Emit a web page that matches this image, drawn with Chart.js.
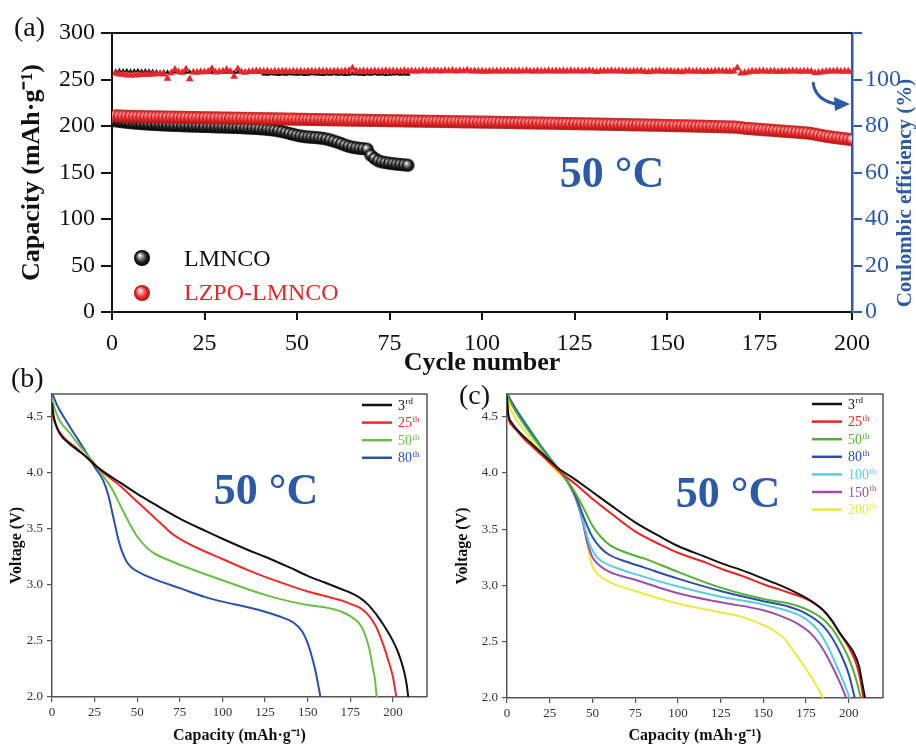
<!DOCTYPE html>
<html lang="en">
<head>
<meta charset="UTF-8">
<title>Cycling at 50 °C</title>
<style>
  body { margin: 0; background: #fff; width: 916px; height: 745px; position: relative; overflow: hidden; }
  canvas { position: absolute; }
  #chartA { left: 0; top: 0; }
  #chartB { left: 0; top: 370px; }
  #chartC { left: 452px; top: 370px; }
  .tag { position: absolute; font: 28px "Liberation Serif", serif; color: #111; line-height: 1; z-index: 2; }
</style>
<script src="https://cdn.jsdelivr.net/npm/chart.js"></script>
</head>
<body>

<canvas id="chartA" width="916" height="385"></canvas>
<canvas id="chartB" width="458" height="375"></canvas>
<canvas id="chartC" width="464" height="375"></canvas>
<div class="tag" style="left:14px; top:13px;">(a)</div>
<div class="tag" style="left:11px; top:364px;">(b)</div>
<div class="tag" style="left:459px; top:381px;">(c)</div>

<script>
  const SERIF = '"Liberation Serif", "Times New Roman", serif';
  const BLUE = '#2c5aa8';
  const RED = '#e8262a';

  // ---- (a) capacity (mAh/g) per cycle, starting at cycle 1
  const capLMNCO = [
    205.5,205.0,204.5,204.0,203.6,203.2,202.9,202.6,202.3,202.0,
    201.8,201.6,201.4,201.2,201.0,200.8,200.6,200.5,200.3,200.2,
    200.0,199.9,199.8,199.6,199.5,199.4,199.3,199.1,199.0,198.9,
    198.8,198.6,198.5,198.4,198.2,198.0,197.8,197.6,197.4,197.1,
    196.8,196.4,196.0,195.5,194.8,194.0,193.0,192.0,191.0,190.0,
    189.2,188.6,188.2,187.9,187.6,187.2,186.7,186.0,185.0,183.8,
    182.5,181.0,179.5,178.2,177.2,176.5,176.0,175.6,175.0,168.5,
    165.0,162.5,161.3,160.6,160.0,159.5,159.0,158.6,158.2,157.8
  ];
  const capLZPO = [
    211.0,210.8,210.6,210.5,210.4,210.3,210.2,210.1,210.0,210.0,
    209.9,209.8,209.8,209.7,209.6,209.6,209.5,209.4,209.4,209.3,
    209.2,209.2,209.1,209.0,209.0,208.9,208.8,208.8,208.7,208.6,
    208.6,208.5,208.4,208.4,208.3,208.2,208.2,208.1,208.0,208.0,
    207.9,207.8,207.8,207.7,207.6,207.6,207.5,207.4,207.4,207.3,
    207.2,207.2,207.1,207.0,207.0,206.9,206.8,206.8,206.7,206.6,
    206.6,206.5,206.5,206.4,206.3,206.3,206.2,206.2,206.1,206.0,
    206.0,205.9,205.9,205.8,205.7,205.7,205.6,205.6,205.5,205.4,
    205.4,205.3,205.3,205.2,205.1,205.1,205.0,205.0,204.9,204.8,
    204.8,204.7,204.7,204.6,204.5,204.5,204.4,204.4,204.3,204.2,
    204.2,204.1,204.0,204.0,203.9,203.8,203.8,203.7,203.6,203.6,
    203.5,203.4,203.4,203.3,203.2,203.2,203.1,203.0,203.0,202.9,
    202.8,202.8,202.7,202.6,202.6,202.5,202.4,202.3,202.3,202.2,
    202.1,202.0,202.0,201.9,201.8,201.7,201.7,201.6,201.5,201.4,
    201.3,201.3,201.2,201.1,201.0,200.9,200.9,200.8,200.7,200.6,
    200.5,200.4,200.4,200.3,200.2,200.1,200.0,199.9,199.8,199.7,
    199.6,199.5,199.4,199.3,199.2,199.1,199.0,198.9,198.7,198.2,
    197.6,197.3,197.0,196.7,196.4,196.1,195.8,195.5,195.2,194.9,
    194.6,194.3,194.0,193.7,193.4,193.1,192.8,192.5,192.0,191.2,
    190.4,189.7,189.0,188.4,187.8,187.3,186.8,186.3,185.8,185.3
  ];
  // coulombic efficiency (%)
  const ceLMNCO = [
    103.6,103.8,103.7,103.8,103.6,103.7,103.8,103.6,103.7,103.5,
    103.4,103.3,103.0,103.2,103.1,103.0,103.3,103.2,103.0,103.1,
    103.2,103.0,103.1,103.3,103.2,103.1,103.0,103.2,103.1,103.0,
    103.2,103.1,103.0,103.2,103.1,103.3,103.0,103.1,103.2,103.0,
    102.4,102.3,102.5,102.4,102.2,102.4,102.3,102.5,102.4,102.3,
    102.4,102.2,102.3,102.5,102.4,102.3,102.2,102.4,102.3,102.5,
    102.3,102.4,102.2,102.3,102.5,102.4,102.3,102.2,102.4,102.3,
    102.5,102.3,102.4,102.2,102.3,102.4,102.5,102.3,102.4,102.3
  ];
  const ceLZPO = [
    102.6,102.3,102.1,101.9,101.8,101.8,101.9,102.0,102.1,102.2,
    102.3,102.4,102.5,102.3,100.4,102.8,104.3,103.2,103.0,104.4,
    100.2,103.1,103.0,103.3,103.2,103.4,104.6,103.1,103.3,103.5,
    104.2,103.4,101.3,104.5,103.2,103.0,103.3,103.4,103.7,103.5,
    103.4,103.6,103.3,103.5,103.4,103.6,103.5,103.3,103.6,103.4,
    103.5,103.3,103.6,103.5,103.4,103.7,103.5,103.6,103.4,103.5,
    103.6,103.4,103.7,103.8,104.8,103.6,103.5,103.7,103.6,103.5,
    103.7,103.6,103.5,103.8,103.6,103.7,103.5,103.6,103.8,103.6,
    103.7,103.5,103.6,103.8,103.7,103.6,103.8,103.7,103.6,103.8,
    103.7,103.9,103.6,103.8,103.7,104.0,103.6,103.7,103.5,103.6,
    103.4,103.6,103.5,103.7,103.6,103.5,103.7,103.6,103.5,103.7,
    103.6,103.8,103.5,103.6,103.7,103.5,103.6,103.8,103.6,103.7,
    103.5,103.7,103.6,103.8,103.5,103.7,103.6,103.5,103.8,103.6,
    103.3,103.6,103.7,103.5,103.8,103.6,103.7,103.5,103.6,103.4,
    103.6,103.5,103.7,103.3,103.2,103.6,103.5,103.7,103.4,103.6,
    103.5,103.3,103.6,103.2,103.5,103.7,103.4,103.6,103.5,103.3,
    103.6,103.4,103.5,103.7,103.5,103.6,103.4,103.6,105.0,102.7,
    102.9,103.1,103.6,103.4,103.5,103.7,103.4,103.6,103.5,103.3,
    103.6,103.4,103.5,103.7,103.6,103.4,103.5,103.6,103.4,102.8,
    103.0,103.2,103.4,103.6,103.5,103.7,103.4,103.6,103.5,103.4
  ];

  // ---- (b) LMNCO discharge curves [capacity, voltage]
  const bLabels = ['3rd', '25th', '50th', '80th'];
  const bColors = ['#111111', '#ee2a2a', '#6abf45', '#2a52a8'];
  const b3 = [[0,4.62],[0.5,4.55],[1,4.5],[2,4.44],[4,4.36],[7,4.30],[10,4.26],[15,4.20],[20,4.14],[25,4.07],[30,4.01],[40,3.91],[50,3.81],[60,3.72],[75,3.59],[90,3.48],[100,3.41],[115,3.31],[125,3.25],[140,3.15],[150,3.08],[160,3.02],[170,2.96],[175,2.93],[180,2.89],[185,2.83],[190,2.74],[195,2.63],[200,2.50],[203,2.40],[206,2.26],[208,2.12],[209,2.0]];
  const b25 = [[0,4.58],[1,4.48],[3,4.40],[6,4.33],[10,4.27],[15,4.21],[20,4.14],[25,4.07],[30,4.0],[40,3.88],[50,3.74],[60,3.60],[65,3.53],[70,3.46],[75,3.41],[85,3.33],[100,3.23],[115,3.13],[125,3.07],[140,2.99],[150,2.94],[160,2.90],[170,2.86],[175,2.83],[180,2.80],[185,2.74],[190,2.63],[194,2.48],[197,2.34],[200,2.18],[202,2.0]];
  const b50 = [[0,4.65],[2,4.55],[5,4.45],[10,4.36],[15,4.26],[20,4.17],[25,4.08],[30,3.97],[35,3.86],[40,3.71],[45,3.56],[50,3.43],[55,3.34],[60,3.28],[70,3.21],[80,3.15],[100,3.04],[115,2.96],[125,2.91],[140,2.85],[150,2.82],[160,2.80],[170,2.76],[175,2.72],[180,2.66],[183,2.58],[186,2.44],[188,2.28],[189.5,2.15],[190.5,2.0]];
  const b80 = [[0,4.71],[3,4.60],[10,4.42],[15,4.30],[20,4.18],[25,4.05],[30,3.93],[33,3.80],[36,3.60],[39,3.40],[41,3.30],[44,3.20],[47,3.15],[50,3.12],[60,3.05],[75,2.97],[90,2.89],[100,2.85],[115,2.80],[125,2.76],[135,2.71],[142,2.66],[147,2.58],[150,2.48],[153,2.33],[155,2.20],[156.5,2.08],[157.5,2.0]];

  // ---- (c) LZPO-LMNCO discharge curves [capacity, voltage]
  const cLabels = ['3rd', '25th', '50th', '80th', '100th', '150th', '200th'];
  const cColors = ['#111111', '#ee2222', '#52b034', '#2e4fa8', '#5ccbdb', '#9a50a8', '#eaea40'];
  const c3 = [[0,4.68],[0.5,4.56],[1,4.5],[3,4.44],[6,4.38],[10,4.32],[15,4.25],[20,4.18],[25,4.11],[30,4.04],[40,3.94],[50,3.83],[60,3.72],[75,3.56],[90,3.43],[100,3.35],[115,3.26],[125,3.20],[140,3.12],[150,3.06],[160,3.00],[170,2.93],[175,2.89],[180,2.84],[185,2.78],[190,2.69],[195,2.57],[200,2.47],[203,2.40],[206,2.28],[208,2.12],[209.5,2.0]];
  const c25 = [[0,4.62],[1,4.48],[3,4.42],[6,4.37],[10,4.30],[15,4.23],[20,4.16],[25,4.09],[30,4.02],[40,3.90],[50,3.77],[60,3.65],[75,3.48],[90,3.36],[100,3.29],[115,3.21],[125,3.15],[140,3.07],[150,3.01],[160,2.96],[170,2.91],[175,2.88],[180,2.84],[185,2.78],[190,2.69],[195,2.57],[200,2.45],[204,2.32],[206.5,2.18],[208.5,2.0]];
  const c50 = [[0,4.70],[3,4.60],[10,4.43],[20,4.22],[30,4.03],[35,3.93],[40,3.82],[45,3.68],[50,3.53],[55,3.43],[60,3.36],[70,3.29],[80,3.24],[100,3.12],[125,2.98],[150,2.88],[165,2.84],[175,2.79],[185,2.70],[190,2.62],[195,2.50],[200,2.35],[204,2.18],[207,2.0]];
  const c80 = [[0,4.71],[3,4.62],[10,4.45],[20,4.23],[30,4.03],[35,3.93],[40,3.80],[45,3.60],[50,3.43],[55,3.33],[60,3.27],[70,3.21],[80,3.16],[100,3.06],[125,2.95],[150,2.86],[165,2.81],[175,2.75],[185,2.64],[190,2.54],[195,2.40],[200,2.21],[203.5,2.0]];
  const c100 = [[0,4.71],[3,4.62],[10,4.46],[20,4.24],[30,4.04],[35,3.94],[40,3.80],[44,3.60],[48,3.38],[52,3.26],[56,3.21],[65,3.15],[75,3.10],[100,2.99],[125,2.90],[150,2.83],[165,2.77],[175,2.70],[182,2.60],[188,2.45],[193,2.28],[197,2.14],[200.5,2.0]];
  const c150 = [[0,4.71],[3,4.62],[10,4.45],[20,4.23],[30,4.03],[35,3.93],[40,3.78],[44,3.58],[47,3.38],[50,3.25],[54,3.18],[60,3.12],[75,3.05],[100,2.93],[125,2.85],[150,2.78],[160,2.73],[170,2.66],[178,2.57],[185,2.43],[191,2.26],[195,2.13],[198.5,2.0]];
  const c200 = [[0,4.68],[2,4.57],[5,4.48],[10,4.38],[15,4.28],[20,4.18],[25,4.08],[30,4.0],[35,3.93],[40,3.82],[43,3.68],[46,3.45],[48,3.28],[50,3.17],[53,3.10],[60,3.03],[75,2.95],[90,2.88],[100,2.84],[115,2.79],[125,2.76],[135,2.73],[145,2.68],[155,2.61],[162,2.53],[168,2.41],[174,2.28],[179,2.16],[183,2.06],[185,2.0]];

  const byCycle = arr => arr.map((v, i) => ({ x: i + 1, y: v }));
  const toXY = arr => arr.map(p => ({ x: p[0], y: p[1] }));

  // shiny ball used as marker and in the legend
  function sphere(r, light, base, dark) {
    const c = document.createElement('canvas');
    c.width = c.height = 2 * r + 2;
    const g = c.getContext('2d');
    const m = r + 1;
    const grad = g.createRadialGradient(m - r * 0.3, m - r * 0.35, r * 0.05, m, m, r);
    grad.addColorStop(0, '#ffffff');
    grad.addColorStop(0.25, light);
    grad.addColorStop(0.65, base);
    grad.addColorStop(1, dark);
    g.fillStyle = grad;
    g.beginPath(); g.arc(m, m, r, 0, Math.PI * 2); g.fill();
    return c;
  }
  const ballRed = sphere(6.5, '#ff9c9c', '#ea2a2a', '#a51010');
  const ballBlack = sphere(6.5, '#a0a0a0', '#222222', '#000000');

  // big "50 °C" note
  const tempNote = {
    id: 'tempNote',
    afterDraw(chart, args, o) {
      const ctx = chart.ctx;
      ctx.save();
      ctx.fillStyle = BLUE;
      ctx.font = 'bold ' + o.size + 'px ' + SERIF;
      ctx.textAlign = 'center';
      ctx.textBaseline = 'middle';
      ctx.fillText('50 °C', o.x, o.y);
      ctx.restore();
    }
  };

  // frame, legend, arrow and right title of panel (a)
  const panelA = {
    id: 'panelA',
    afterDraw(chart) {
      const { ctx, chartArea: a } = chart;
      ctx.save();
      ctx.strokeStyle = '#111'; ctx.lineWidth = 2;
      ctx.beginPath(); ctx.moveTo(a.left, a.top); ctx.lineTo(a.right, a.top); ctx.stroke();

      const big1 = sphere(8, '#a0a0a0', '#222222', '#000000');
      const big2 = sphere(8, '#ff9c9c', '#ea2a2a', '#a51010');
      ctx.drawImage(big1, 142 - 9, 258 - 9);
      ctx.drawImage(big2, 142 - 9, 293 - 9);
      ctx.font = '24px ' + SERIF;
      ctx.textBaseline = 'middle';
      ctx.fillStyle = '#111'; ctx.fillText('LMNCO', 184, 260);
      ctx.fillStyle = RED; ctx.fillText('LZPO-LMNCO', 184, 294);

      // curved arrow towards the right axis
      ctx.strokeStyle = BLUE; ctx.fillStyle = BLUE; ctx.lineWidth = 3;
      ctx.beginPath(); ctx.moveTo(813, 82); ctx.quadraticCurveTo(815, 100, 836, 104); ctx.stroke();
      ctx.beginPath(); ctx.moveTo(850, 104); ctx.lineTo(834, 97); ctx.lineTo(835, 111); ctx.closePath(); ctx.fill();

      ctx.translate(906, 193);
      ctx.rotate(-Math.PI / 2);
      ctx.font = 'bold 21px ' + SERIF;
      ctx.textAlign = 'center';
      ctx.fillStyle = BLUE;
      ctx.fillText('Coulombic efficiency (%)', 0, 0);
      ctx.restore();
    }
  };

  new Chart(document.getElementById('chartA'), {
    type: 'scatter',
    data: {
      datasets: [
        { data: byCycle(ceLZPO), yAxisID: 'y2', pointStyle: 'triangle', pointRadius: 4.5, backgroundColor: RED, borderColor: RED, borderWidth: 0 },
        { data: byCycle(capLZPO), yAxisID: 'y', pointStyle: ballRed, pointRadius: 6.5 },
        { data: byCycle(ceLMNCO), yAxisID: 'y2', pointStyle: 'triangle', pointRadius: 3, backgroundColor: '#111', borderColor: '#111', borderWidth: 0 },
        { data: byCycle(capLMNCO), yAxisID: 'y', pointStyle: ballBlack, pointRadius: 6.5 }
      ]
    },
    options: {
      responsive: false,
      animation: false,
      layout: { padding: { top: 33, left: 0, right: 0, bottom: 0 } },
      plugins: { legend: { display: false }, tooltip: { enabled: false }, tempNote: { x: 612, y: 176, size: 44 } },
      scales: {
        x: {
          type: 'linear', min: 0, max: 200,
          ticks: { stepSize: 25, color: '#111', padding: 9, maxRotation: 0, font: { family: SERIF, size: 24 } },
          grid: { drawOnChartArea: false, tickLength: 8, color: '#111', lineWidth: 2 },
          border: { color: '#111', width: 2 },
          title: { display: true, text: 'Cycle number', color: '#111', font: { family: SERIF, size: 26, weight: 'bold' }, padding: { top: 0, bottom: 6 } },
          afterFit(s) { s.height = 73; }
        },
        y: {
          position: 'left', min: 0, max: 300,
          ticks: { stepSize: 50, color: '#111', padding: 6, font: { family: SERIF, size: 24 } },
          grid: { drawOnChartArea: false, tickLength: 11, color: '#111', lineWidth: 2 },
          border: { color: '#111', width: 2 },
          title: { display: true, text: 'Capacity (mAh\u00B7g\u207B\u00B9)', color: '#111', font: { family: SERIF, size: 26, weight: 'bold' }, padding: { top: 17, bottom: 0 } },
          afterFit(s) { s.width = 112; }
        },
        y2: {
          position: 'right', min: 0, max: 120,
          ticks: { stepSize: 20, color: BLUE, padding: 3, font: { family: SERIF, size: 24 }, callback: v => (v > 100 ? '' : v) },
          grid: { drawOnChartArea: false, tickLength: 10, color: BLUE, lineWidth: 2 },
          border: { color: BLUE, width: 2.5 },
          afterFit(s) { s.width = 64; }
        }
      }
    },
    plugins: [panelA, tempNote]
  });

  // ---- panels (b) and (c)
  const boxFrame = {
    id: 'boxFrame',
    afterDraw(chart) {
      const { ctx, chartArea: a } = chart;
      ctx.save();
      ctx.strokeStyle = '#555'; ctx.lineWidth = 1.5;
      ctx.beginPath();
      ctx.moveTo(a.left, a.top); ctx.lineTo(a.right, a.top); ctx.lineTo(a.right, a.bottom);
      ctx.stroke();
      ctx.restore();
    }
  };

  const cycleLegend = {
    id: 'cycleLegend',
    afterDraw(chart, args, o) {
      const ctx = chart.ctx;
      ctx.save();
      chart.data.datasets.forEach((ds, i) => {
        const y = o.y + i * o.gap;
        ctx.strokeStyle = ds.borderColor; ctx.lineWidth = 2.5;
        ctx.beginPath(); ctx.moveTo(o.x, y); ctx.lineTo(o.x + 30, y); ctx.stroke();
        const m = ds.label.match(/^(\d+)(\D+)$/);
        ctx.fillStyle = ds.borderColor;
        ctx.textBaseline = 'middle';
        ctx.font = '14px ' + SERIF;
        ctx.fillText(m[1], o.x + 36, y + 1);
        const w = ctx.measureText(m[1]).width;
        ctx.font = '9px ' + SERIF;
        ctx.fillText(m[2], o.x + 36 + w + 0.5, y - 3);
      });
      ctx.restore();
    }
  };

  function voltageChart(id, labels, colors, curves, geo) {
    return new Chart(document.getElementById(id), {
      type: 'line',
      data: {
        datasets: curves.map((c, i) => ({
          label: labels[i], data: toXY(c), borderColor: colors[i], borderWidth: 2,
          pointRadius: 0, cubicInterpolationMode: 'monotone', fill: false
        }))
      },
      options: {
        responsive: false,
        animation: false,
        layout: { padding: { top: 24, left: 0, right: geo.right, bottom: 0 } },
        plugins: { legend: { display: false }, tooltip: { enabled: false }, cycleLegend: geo.legend, tempNote: geo.note },
        scales: {
          x: {
            type: 'linear', min: 0, max: 220,
            ticks: { stepSize: 25, includeBounds: false, color: '#333', padding: 3, maxRotation: 0, font: { family: SERIF, size: 13 } },
            grid: { drawOnChartArea: false, tickLength: 5, color: '#555', lineWidth: 1.2 },
            border: { color: '#555', width: 1.5 },
            title: { display: true, text: 'Capacity (mAh\u00B7g\u207B\u00B9)', color: '#111', font: { family: SERIF, size: 16, weight: 'bold' }, padding: { top: 0, bottom: 0 } },
            afterFit(s) { s.height = geo.xh; }
          },
          y: {
            min: 2.0, max: 4.7,
            ticks: { stepSize: 0.5, includeBounds: false, color: '#333', padding: 4, font: { family: SERIF, size: 13 }, callback: v => v.toFixed(1) },
            grid: { drawOnChartArea: false, tickLength: 5, color: '#555', lineWidth: 1.2 },
            border: { color: '#555', width: 1.5 },
            title: { display: true, text: 'Voltage (V)', color: '#111', font: { family: SERIF, size: 16, weight: 'bold' }, padding: { top: geo.ytp, bottom: 0 } },
            afterFit(s) { s.width = geo.yw; }
          }
        }
      },
      plugins: [boxFrame, cycleLegend, tempNote]
    });
  }

  voltageChart('chartB', bLabels, bColors, [b3, b25, b50, b80],
    { right: 31, xh: 48, yw: 52, ytp: 7, legend: { x: 362, y: 35, gap: 17.6 }, note: { x: 266, y: 123, size: 44 } });
  voltageChart('chartC', cLabels, cColors, [c3, c25, c50, c80, c100, c150, c200],
    { right: 33, xh: 47, yw: 55, ytp: 1, legend: { x: 360, y: 34, gap: 17.6 }, note: { x: 276, y: 126, size: 44 } });
</script>

</body>
</html>
